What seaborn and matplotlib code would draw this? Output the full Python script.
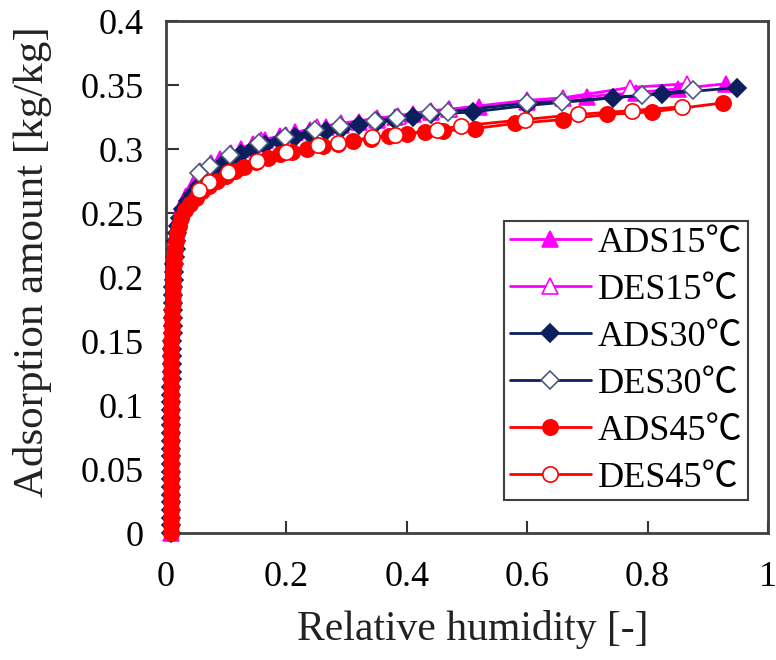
import matplotlib
matplotlib.use("Agg")
import matplotlib.pyplot as plt
import seaborn as sns
import pandas as pd

# ---- data ----
rh_ads15 = [0.008] * 20 + [0.009] * 6 + [0.010] * 4 + [0.011] * 3 + [0.012] * 2 + [
    0.013, 0.014, 0.015, 0.016, 0.017, 0.019,
    0.021, 0.026, 0.034, 0.043, 0.053, 0.064, 0.076, 0.090, 0.106, 0.124, 0.144, 0.165,
    0.19, 0.215, 0.24, 0.265, 0.29, 0.32, 0.35, 0.38, 0.41, 0.44, 0.47, 0.52,
    0.60, 0.70, 0.78, 0.85, 0.93]
q_ads15 = [0.000, 0.006, 0.012, 0.018, 0.024, 0.030, 0.036, 0.042, 0.048, 0.054, 0.060,
           0.066, 0.072, 0.078, 0.084, 0.090, 0.096, 0.102, 0.108, 0.114, 0.120, 0.126,
           0.132, 0.138, 0.144, 0.150, 0.156, 0.162, 0.168, 0.174, 0.180, 0.186, 0.192,
           0.198, 0.204, 0.210, 0.216, 0.222, 0.228, 0.234, 0.240,
           0.248, 0.256, 0.263, 0.270, 0.276, 0.282, 0.287, 0.292, 0.296, 0.300, 0.304, 0.307,
           0.310, 0.313, 0.315, 0.317, 0.319, 0.321, 0.323, 0.325, 0.327, 0.329, 0.331, 0.333,
           0.337, 0.341, 0.344, 0.347, 0.351]
rh_des15 = [0.865, 0.77, 0.66, 0.60, 0.47, 0.44, 0.385, 0.35, 0.29, 0.25, 0.20, 0.157,
            0.108, 0.075, 0.057]
q_des15 = [0.351, 0.348, 0.340, 0.338, 0.331, 0.330, 0.326, 0.324, 0.320, 0.317, 0.311, 0.307,
           0.297, 0.289, 0.283]

rh_ads30 = [0.009] * 20 + [0.010] * 6 + [0.011] * 4 + [0.012] * 3 + [0.013] * 2 + [
    0.014, 0.015, 0.016, 0.017, 0.018, 0.020,
    0.023, 0.028, 0.036, 0.045, 0.055, 0.066, 0.078, 0.092, 0.108, 0.125, 0.145, 0.165,
    0.19, 0.215, 0.24, 0.265, 0.29, 0.32, 0.35, 0.38, 0.41, 0.44, 0.51,
    0.60, 0.743, 0.824, 0.949]
q_ads30 = [0.000, 0.006, 0.012, 0.018, 0.024, 0.030, 0.036, 0.042, 0.048, 0.054, 0.060,
           0.066, 0.072, 0.078, 0.084, 0.090, 0.096, 0.102, 0.108, 0.114, 0.120, 0.126,
           0.132, 0.138, 0.144, 0.150, 0.156, 0.162, 0.168, 0.174, 0.180, 0.186, 0.192,
           0.198, 0.204, 0.210, 0.216, 0.222, 0.228, 0.234, 0.240,
           0.246, 0.253, 0.259, 0.265, 0.271, 0.277, 0.282, 0.287, 0.292, 0.296, 0.300, 0.303,
           0.306, 0.309, 0.312, 0.314, 0.316, 0.319, 0.321, 0.323, 0.325, 0.327, 0.329,
           0.334, 0.340, 0.343, 0.348]
rh_des30 = [0.875, 0.79, 0.657, 0.60, 0.468, 0.438, 0.383, 0.347, 0.289, 0.247, 0.198, 0.155,
            0.106, 0.073, 0.055]
q_des30 = [0.346, 0.342, 0.337, 0.336, 0.329, 0.328, 0.324, 0.322, 0.318, 0.315, 0.309, 0.305,
           0.295, 0.287, 0.281]

rh_ads45 = [0.008] * 20 + [0.009] * 6 + [0.010] * 4 + [0.011] * 3 + [0.012] * 2 + [
    0.013, 0.014, 0.015, 0.017, 0.019, 0.021,
    0.025, 0.032, 0.040, 0.050, 0.060, 0.072, 0.085, 0.10, 0.115, 0.13, 0.15, 0.17,
    0.19, 0.21, 0.235, 0.26, 0.285, 0.31, 0.34, 0.37, 0.40, 0.43, 0.46, 0.513,
    0.58, 0.66, 0.733, 0.807, 0.925]
q_ads45 = [0.000, 0.006, 0.012, 0.018, 0.024, 0.030, 0.036, 0.042, 0.048, 0.054, 0.060,
           0.066, 0.072, 0.078, 0.084, 0.090, 0.096, 0.102, 0.108, 0.114, 0.120, 0.126,
           0.132, 0.138, 0.144, 0.150, 0.156, 0.162, 0.168, 0.174, 0.180, 0.186, 0.192,
           0.198, 0.204, 0.210, 0.216, 0.222, 0.228, 0.234, 0.240,
           0.246, 0.252, 0.257, 0.262, 0.267, 0.271, 0.275, 0.279, 0.283, 0.286, 0.290, 0.293,
           0.296, 0.298, 0.300, 0.302, 0.304, 0.306, 0.308, 0.310, 0.312, 0.313, 0.314, 0.316,
           0.320, 0.323, 0.327, 0.329, 0.336]
rh_des45 = [0.857, 0.774, 0.684, 0.596, 0.49, 0.45, 0.38, 0.342, 0.286, 0.252, 0.20, 0.151,
            0.103, 0.071, 0.055]
q_des45 = [0.333, 0.330, 0.327, 0.323, 0.318, 0.315, 0.311, 0.309, 0.305, 0.303, 0.298, 0.291,
           0.282, 0.274, 0.268]

labels = ["ADS15℃", "DES15℃", "ADS30℃", "DES30℃", "ADS45℃", "DES45℃"]
x_ticks = [0, 0.2, 0.4, 0.6, 0.8, 1]
x_ticklabels = ["0", "0.2", "0.4", "0.6", "0.8", "1"]
y_ticks = [0, 0.05, 0.1, 0.15, 0.2, 0.25, 0.3, 0.35, 0.4]
y_ticklabels = ["0", "0.05", "0.1", "0.15", "0.2", "0.25", "0.3", "0.35", "0.4"]

series = [
    (rh_ads15, q_ads15), (rh_des15, q_des15),
    (rh_ads30, q_ads30), (rh_des30, q_des30),
    (rh_ads45, q_ads45), (rh_des45, q_des45),
]

# ---- style ----
sns.set_style("ticks")
plt.rcParams["font.family"] = ["Liberation Serif", "Noto Sans CJK JP", "DejaVu Sans"]

magenta = "#FF00FF"
navy = "#0B1F5E"
red = "#FF0000"
styles = [
    dict(color=magenta, marker="^", markersize=11, markerfacecolor=magenta, markeredgecolor=magenta),
    dict(color=magenta, marker="^", markersize=11, markerfacecolor="white", markeredgecolor=magenta),
    dict(color=navy, marker="D", markersize=9, markerfacecolor=navy, markeredgecolor=navy),
    dict(color=navy, marker="D", markersize=9, markerfacecolor="white", markeredgecolor="#4A5A80"),
    dict(color=red, marker="o", markersize=11, markerfacecolor=red, markeredgecolor=red),
    dict(color=red, marker="o", markersize=11, markerfacecolor="white", markeredgecolor=red),
]

fig = plt.figure(figsize=(7.76, 6.60), dpi=100)
ax = fig.add_axes([166 / 776, 1 - 533 / 660, (768 - 166) / 776, (533 - 21) / 660])

for (xs, ys), lab, st in zip(series, labels, styles):
    df = pd.DataFrame({"rh": xs, "q": ys})
    sns.lineplot(data=df, x="rh", y="q", sort=False, estimator=None, ax=ax,
                 linewidth=2, markeredgewidth=1.2, label=lab, clip_on=False, **st)

ax.set_xlim(0, 1)
ax.set_ylim(0, 0.4)
ax.set_xticks(x_ticks)
ax.set_xticklabels(x_ticklabels)
ax.set_yticks(y_ticks)
ax.set_yticklabels(y_ticklabels)
ax.tick_params(axis="both", direction="in", length=9, width=1.5, color="#333333",
               labelsize=26, labelcolor="black", top=False, right=False)
ax.tick_params(axis="x", pad=20)
ax.tick_params(axis="y", pad=16)
for s in ax.spines.values():
    s.set_visible(True)
    s.set_linewidth(2)
    s.set_color("#404040")
    s.set_zorder(1)

ax.set_xlabel("Relative humidity [-]", fontsize=30, color="#222222")
ax.set_ylabel("Adsorption amount [kg/kg]", fontsize=31, color="#222222")
ax.xaxis.set_label_coords((473 - 166) / 602, -(610 - 533) / 512)
ax.yaxis.set_label_coords(-(166 - 52) / 602, (533 - 262) / 512)

leg = ax.legend(loc="lower right", bbox_to_anchor=(0.967, 0.0645), fontsize=26,
                frameon=True, fancybox=False, edgecolor="#404040", framealpha=1,
                handlelength=2.25, handletextpad=0.2, labelspacing=0.38,
                borderpad=0.15, borderaxespad=0)
leg.get_frame().set_linewidth(1.5)
leg.set_zorder(5)
for t in leg.get_texts():
    t.set_color("black")

fig.savefig("out.png", dpi=100)
